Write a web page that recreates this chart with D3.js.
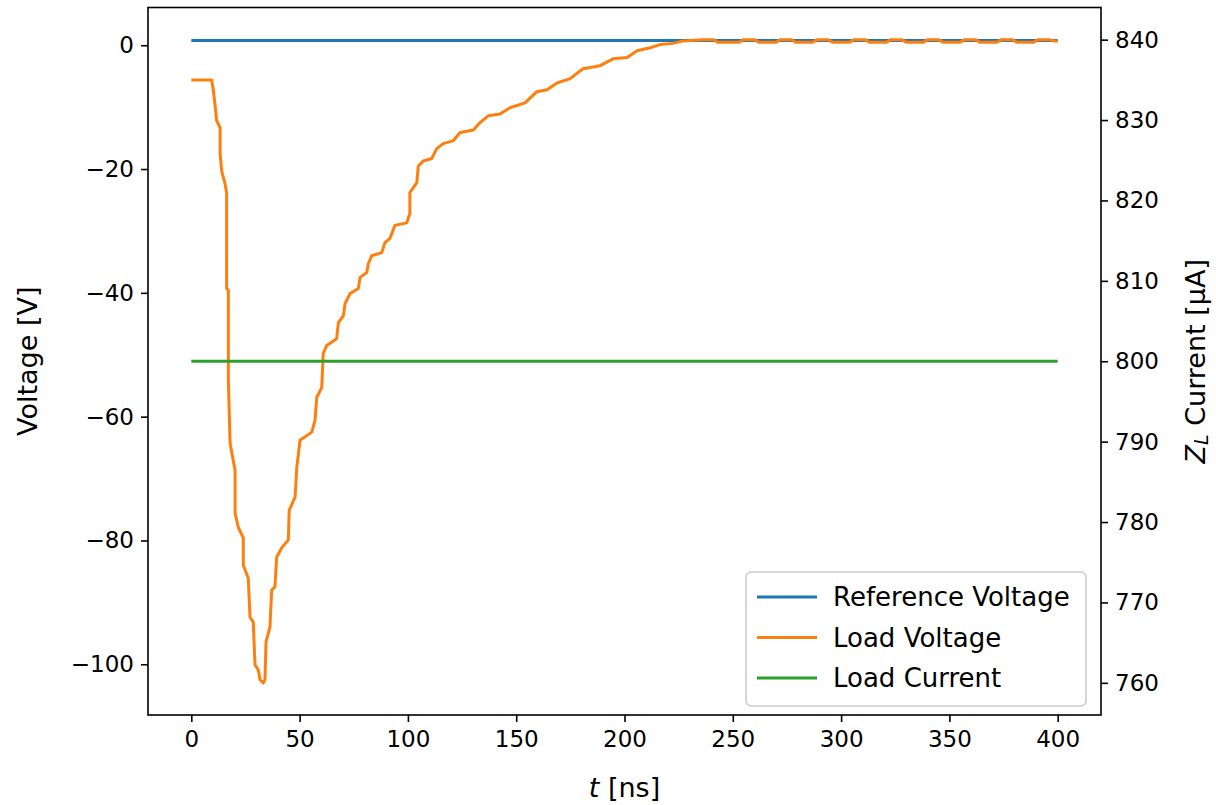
<!DOCTYPE html>
<html>
<head>
<meta charset="utf-8">
<script src="https://cdn.jsdelivr.net/npm/d3@7"></script>
<style>
  body { margin: 0; background: #fff; }
  svg { display: block; }
  text { font-family: "DejaVu Sans", sans-serif; }
</style>
</head>
<body>
<svg id="chart" width="1216" height="805"></svg>
<script>
// ---- data ----
const timeRange = [0, 400];                 // ns
const referenceVoltage = 0.75;              // V
const loadCurrent = 800;                    // µA
const loadVoltageT = [0, 9.4, 10.2, 10.9, 11.7, 13.3, 13.3, 14.0, 15.6, 16.3, 16.3, 17.1, 17.1, 17.9, 20.2, 20.2, 21.7, 24.0, 24.0, 26.3, 27.1, 28.6, 29.4, 30.9, 31.7, 33.2, 34.0, 34.5, 36.3, 37.1, 38.6, 39.4, 41.7, 44.8, 45.2, 47.9, 48.7, 50.2, 55.6, 57.1, 57.9, 60.2, 60.9, 62.5, 67.1, 67.9, 70.2, 71.0, 73.3, 77.1, 77.9, 81.0, 81.7, 83.3, 87.9, 89.4, 91.7, 94.0, 99.4, 100.9, 100.9, 104.1, 104.8, 107.1, 111.0, 113.3, 116.3, 121.0, 124.1, 130.2, 133.3, 137.1, 142.5, 147.1, 154.1, 159.5, 164.2, 168.8, 174.9, 180.8, 188.7, 194.7, 201.2, 205.8, 211.8, 216.4, 222.4, 227.0, 236, 241, 243, 253, 255, 260, 262, 270, 272, 277, 279, 287, 289, 294, 296, 304, 306, 311, 313, 321, 323, 328, 330, 338, 340, 345, 347, 355, 357, 362, 364, 372, 374, 379, 381, 389, 391, 396, 398, 400];
const loadVoltageV = [-5.6, -5.6, -7.4, -9.5, -12.2, -13.3, -17.5, -20.3, -22.4, -24.0, -39.3, -39.6, -54.1, -64.3, -68.7, -75.6, -77.9, -79.6, -84.0, -86.1, -92.4, -93.2, -100.1, -100.9, -102.5, -103.0, -102.5, -96.4, -94.0, -88.0, -87.5, -82.7, -81.2, -79.9, -75.1, -73.0, -68.2, -63.8, -62.5, -60.6, -56.9, -55.3, -49.8, -48.5, -47.4, -44.8, -43.7, -41.7, -40.1, -39.3, -37.5, -36.7, -35.3, -34.0, -33.5, -31.9, -31.2, -29.1, -28.7, -27.2, -23.8, -22.2, -19.5, -18.7, -18.3, -16.7, -15.9, -15.4, -14.1, -13.7, -12.5, -11.4, -11.1, -10.1, -9.3, -7.5, -7.2, -6.1, -5.4, -3.8, -3.3, -2.2, -2.0, -0.9, -0.4, 0.1, 0.3, 0.7, 0.9, 0.9, 0.5, 0.5, 0.9, 0.9, 0.5, 0.5, 0.9, 0.9, 0.5, 0.5, 0.9, 0.9, 0.5, 0.5, 0.9, 0.9, 0.5, 0.5, 0.9, 0.9, 0.5, 0.5, 0.9, 0.9, 0.5, 0.5, 0.9, 0.9, 0.5, 0.5, 0.9, 0.9, 0.5, 0.5, 0.9, 0.9, 0.7, 0.7];
const xTicks = [0, 50, 100, 150, 200, 250, 300, 350, 400];
const yLeftTicks = [0, -20, -40, -60, -80, -100];
const yRightTicks = [760, 770, 780, 790, 800, 810, 820, 830, 840];
const seriesNames = ["Reference Voltage", "Load Voltage", "Load Current"];
const seriesColors = ["#1f77b4", "#ff7f0e", "#2ca02c"];

// ---- layout ----
const L = 148, R = 1101, T = 7.5, B = 715;
const TICK_FS = 23, LABEL_FS = 27, LEGEND_FS = 26;
const svg = d3.select("#chart");

const pad = (lo, hi) => { const d = (hi - lo) * 0.05; return [lo - d, hi + d]; };
const xDom = pad(timeRange[0], timeRange[1]);
const vAll = loadVoltageV.concat([referenceVoltage]);
const yDom = pad(d3.min(vAll), d3.max(vAll));
// constant current: matplotlib expands ±5% of value, then 5% margin
const y2Dom = pad(loadCurrent * 0.95, loadCurrent * 1.05);

const x = d3.scaleLinear().domain(xDom).range([L, R]);
const y = d3.scaleLinear().domain(yDom).range([B, T]);
const y2 = d3.scaleLinear().domain(y2Dom).range([B, T]);

const fmtMinus = d => String(d).replace("-", "\u2212");

// lines
svg.append("clipPath").attr("id", "clip").append("rect")
  .attr("x", L).attr("y", T).attr("width", R - L).attr("height", B - T);
const g = svg.append("g").attr("clip-path", "url(#clip)");
const line = d3.line().x(d => x(d[0])).y(d => d[1]);

g.append("path")
  .datum([[timeRange[0], y(referenceVoltage)], [timeRange[1], y(referenceVoltage)]])
  .attr("d", line).attr("fill", "none").attr("stroke", seriesColors[0]).attr("stroke-width", 3);

g.append("path")
  .datum(loadVoltageT.map((t, i) => [t, y(loadVoltageV[i])]))
  .attr("d", line).attr("fill", "none").attr("stroke", seriesColors[1]).attr("stroke-width", 3)
  .attr("stroke-linejoin", "round");

g.append("path")
  .datum([[timeRange[0], y2(loadCurrent)], [timeRange[1], y2(loadCurrent)]])
  .attr("d", line).attr("fill", "none").attr("stroke", seriesColors[2]).attr("stroke-width", 3);

// axes
function styleAxis(sel) {
  sel.select(".domain").remove();
  sel.selectAll(".tick line").attr("stroke", "#000").attr("stroke-width", 1.6);
  sel.selectAll(".tick text").attr("font-size", TICK_FS).attr("fill", "#000")
    .attr("font-family", "DejaVu Sans, sans-serif");
}
const xAxis = svg.append("g").attr("transform", `translate(0,${B})`)
  .call(d3.axisBottom(x).tickValues(xTicks).tickSize(7).tickPadding(7).tickFormat(d3.format("d")));
styleAxis(xAxis);
xAxis.selectAll(".tick text").attr("dy", "0.75em").attr("y", 15);

const yAxis = svg.append("g").attr("transform", `translate(${L},0)`)
  .call(d3.axisLeft(y).tickValues(yLeftTicks).tickSize(7).tickPadding(7).tickFormat(fmtMinus));
styleAxis(yAxis);

const y2Axis = svg.append("g").attr("transform", `translate(${R},0)`)
  .call(d3.axisRight(y2).tickValues(yRightTicks).tickSize(7).tickPadding(7).tickFormat(d3.format("d")));
styleAxis(y2Axis);

// frame
svg.append("rect").attr("x", L).attr("y", T).attr("width", R - L).attr("height", B - T)
  .attr("fill", "none").attr("stroke", "#000").attr("stroke-width", 1.6);

// axis labels
svg.append("text").attr("transform", `translate(27,${(T + B) / 2}) rotate(-90)`)
  .attr("text-anchor", "middle").attr("dominant-baseline", "central")
  .attr("font-size", LABEL_FS).text("Voltage [V]");

const rl = svg.append("text").attr("transform", `translate(1195,${(T + B) / 2}) rotate(-90)`)
  .attr("text-anchor", "middle").attr("dominant-baseline", "central")
  .attr("font-size", LABEL_FS);
rl.append("tspan").attr("font-style", "italic").text("Z");
rl.append("tspan").attr("font-style", "italic").attr("font-size", 19).attr("dy", 6).text("L");
rl.append("tspan").attr("dy", -6).text(" Current [µA]");

const xl = svg.append("text").attr("x", (L + R) / 2).attr("y", 787)
  .attr("text-anchor", "middle").attr("dominant-baseline", "central")
  .attr("font-size", LABEL_FS);
xl.append("tspan").attr("font-style", "italic").text("t");
xl.append("tspan").text(" [ns]");

// legend
const lg = svg.append("g").attr("transform", "translate(746,572)");
lg.append("rect").attr("width", 340).attr("height", 134).attr("rx", 5).attr("ry", 5)
  .attr("fill", "#fff").attr("fill-opacity", 0.8).attr("stroke", "#cccccc").attr("stroke-width", 1.6);
seriesNames.forEach((name, i) => {
  const yy = 25 + i * 40.5;
  lg.append("line").attr("x1", 11).attr("x2", 71).attr("y1", yy).attr("y2", yy)
    .attr("stroke", seriesColors[i]).attr("stroke-width", 3);
  lg.append("text").attr("x", 87).attr("y", yy).attr("dominant-baseline", "central")
    .attr("font-size", LEGEND_FS).text(name);
});
</script>
</body>
</html>
